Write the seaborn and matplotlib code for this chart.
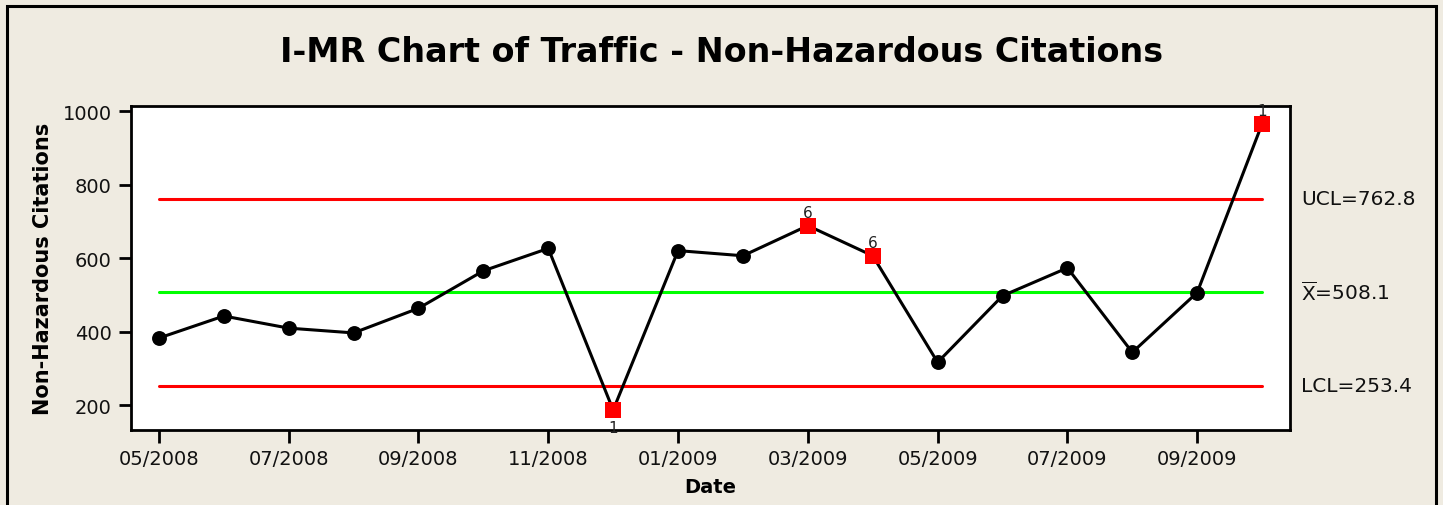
import matplotlib
matplotlib.use("Agg")
import matplotlib.pyplot as plt
import seaborn as sns
import pandas as pd
from matplotlib.patches import Rectangle

# ---- data ----
dates = ["05/2008", "06/2008", "07/2008", "08/2008", "09/2008", "10/2008",
         "11/2008", "12/2008", "01/2009", "02/2009", "03/2009", "04/2009",
         "05/2009", "06/2009", "07/2009", "08/2009", "09/2009", "10/2009"]
citations = [383, 443, 410, 397, 464, 566, 627, 187, 621, 607, 689, 607,
             317, 498, 574, 344, 507, 966]
flags = ["", "", "", "", "", "", "", "1", "", "", "6", "6",
         "", "", "", "", "", "1"]
ucl = 762.8
center = 508.1
lcl = 253.4
tick_labels = ["05/2008", "07/2008", "09/2008", "11/2008", "01/2009",
               "03/2009", "05/2009", "07/2009", "09/2009"]

df = pd.DataFrame({"idx": range(len(dates)), "date": dates,
                   "value": citations, "flag": flags})

BG = "#EFEBE1"
sns.set_theme(style="white")
plt.rcParams["font.family"] = ["DejaVu Sans"]

fig = plt.figure(figsize=(14.43, 5.06), dpi=100, facecolor=BG)
W, H = 1443, 506
ax = fig.add_axes([131 / W, 1 - 431 / H, (1290 - 131) / W, (431 - 107) / H])
ax.set_facecolor("white")

# control limit lines
n = len(dates)
for val, col in [(ucl, "#FF0000"), (center, "#00FF00"), (lcl, "#FF0000")]:
    sns.lineplot(x=[0, n - 1], y=[val, val], ax=ax, color=col, lw=2.2,
                 zorder=2)

# data line
sns.lineplot(data=df, x="idx", y="value", ax=ax, color="black", lw=2.2,
             zorder=3)
ok = df[df["flag"] == ""]
bad = df[df["flag"] != ""]
sns.scatterplot(data=ok, x="idx", y="value", ax=ax, color="black",
                s=115, marker="o", edgecolor="black", linewidth=0, zorder=4)
sns.scatterplot(data=bad, x="idx", y="value", ax=ax, color="#FF0000",
                s=120, marker="s", edgecolor="#FF0000", linewidth=0, zorder=5)

for _, r in bad.iterrows():
    if r["value"] < lcl:
        ax.annotate(r["flag"], (r["idx"], r["value"]), xytext=(0, -7),
                    textcoords="offset points", ha="center", va="top",
                    fontsize=11, color="#222222", annotation_clip=False)
    else:
        ax.annotate(r["flag"], (r["idx"], r["value"]), xytext=(0, 4),
                    textcoords="offset points", ha="center", va="bottom",
                    fontsize=11, color="#222222", annotation_clip=False)

ax.set_xlim(-0.43, n - 1 + 0.43)
ax.set_ylim(132.7, 1014.7)
ax.set_yticks([200, 400, 600, 800, 1000])
tick_pos = [dates.index(t) for t in tick_labels]
ax.set_xticks(tick_pos)
ax.set_xticklabels(tick_labels)
ax.tick_params(axis="both", direction="out", length=9, width=2,
               color="black", labelsize=14, labelcolor="#111111", pad=5,
               bottom=True, left=True)
for s in ax.spines.values():
    s.set_color("black")
    s.set_linewidth(2)

ax.set_xlabel("Date", fontsize=14, fontweight="bold", labelpad=6,
              color="black")
ax.set_ylabel("Non-Hazardous Citations", fontsize=15, fontweight="bold",
              labelpad=7, color="black")

# limit labels on the right
tx = ax.get_xlim()[1]
for txt, val in [("UCL=762.8", ucl),
                 (r"$\overline{\mathrm{X}}$=508.1", center),
                 ("LCL=253.4", lcl)]:
    ax.annotate(txt, (tx, val), xytext=(8, 0), textcoords="offset points",
                ha="left", va="center", fontsize=14.5, color="#111111",
                annotation_clip=False)

fig.text(722 / W, 1 - 52 / H, "I-MR Chart of Traffic - Non-Hazardous Citations",
         ha="center", va="center", fontsize=24, fontweight="bold",
         color="black")

# outer frame
fig.patches.append(Rectangle((7 / W, -0.05), (1435.5 - 7) / W, 1.05 - 6.5 / H,
                             transform=fig.transFigure, fill=False,
                             edgecolor="black", linewidth=2.2, clip_on=False))

fig.savefig("out.png", dpi=100, facecolor=BG)
